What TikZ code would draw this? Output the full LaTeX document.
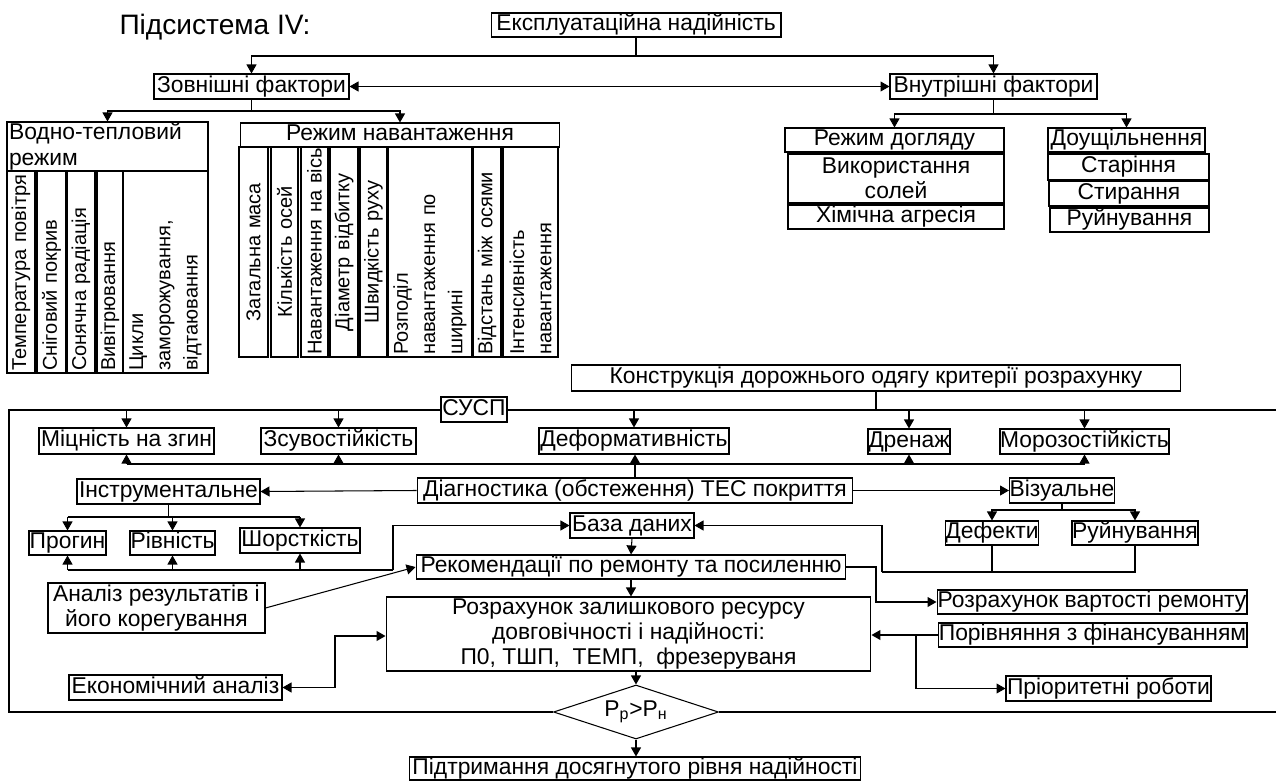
\documentclass[tikz,border=0pt]{standalone}
\usepackage{fontspec}
\setmainfont{Liberation Sans}
\usetikzlibrary{arrows.meta,shapes.geometric}
\tikzset{
  box/.style={draw,fill=white,inner sep=0pt,align=center},
  lbox/.style={box,text height=9.4pt,text depth=2.6pt},
  col/.style={draw,rotate=90,inner sep=0pt,minimum height=#1,font=\fontsize{11.4}{15.5}\selectfont},
  wcol/.style={col=#1,minimum width=4.04cm,text width=3.96cm,align=left},
  rcol/.style={col=#1,minimum width=4.2cm,text width=4.12cm,align=left},
  rcolc/.style={rcol=#1,align=center},
}

\begin{document}
\begin{tikzpicture}[x=0.02cm,y=-0.02cm,line width=0.6pt,
    font=\fontsize{13}{14.5}\selectfont,>={Triangle[length=1.8mm,width=2mm]}]
   \useasboundingbox (0,0) rectangle (1276,781);
% Heading
   \node [font=\fontsize{16}{19}\selectfont] (title) at (215,27) {Підсистема IV:};
   \node [lbox,minimum width=5.8cm,minimum height=0.48cm] (expl) at (636,25) {Експлуатаційна надійність};
   \node [lbox,minimum width=3.9cm,minimum height=0.5cm] (zovn) at (251.5,86.5) {Зовнішні фактори};
   \node [lbox,minimum width=4.14cm,minimum height=0.5cm] (vnutr) at (993.5,86.5) {Внутрішні фактори};
   \coordinate (j1) at (636,56);
   \draw (expl.south) -- (j1);
   \draw [->] (j1) -| (zovn.north);
   \draw [->] (j1) -| (vnutr.north);
   \draw [<->] (zovn.east) -- (vnutr.west);
% External factors
   \node [box,minimum width=4.02cm,minimum height=0.98cm,text width=3.94cm,align=left] (vodno) at (107.5,146.5)
        {Водно-тепловий\\режим};
   \node [lbox,minimum width=6.4cm,minimum height=0.48cm] (rezh) at (400,135) {Режим навантаження};
   \coordinate (j2) at (251.5,111);
   \draw (zovn.south) -- (j2);
   \draw [->] (j2) -| (vodno.north);
   \draw [->] (j2) -| (rezh.north);
   \node [wcol=0.56cm] (w1) at (21,272)    {Температура~повітря};
   \node [wcol=0.58cm] (w2) at (51.5,272)  {Сніговий~покрив};
   \node [wcol=0.56cm] (w3) at (81,272)    {Сонячна~радіація};
   \node [wcol=0.52cm] (w4) at (110,272)   {Вивітрювання};
   \node [wcol=1.7cm]  (w5) at (165.5,272) {Цикли\\заморожування,\\відтаювання};
   \node [rcolc=0.58cm] (r1) at (253.5,252) {Загальна~маса};
   \node [rcolc=0.54cm] (r2) at (284.5,252) {Кількість~осей};
   \node [rcol=0.54cm]  (r3) at (314.5,252) {Навантаження~на~вісь};
   \node [rcolc=0.56cm] (r4) at (344,252)   {Діаметр~відбитку};
   \node [rcolc=0.54cm] (r5) at (373.5,252) {Швидкість~руху};
   \node [rcol=1.68cm]  (r6) at (430,252)   {Розподіл\\навантаження~по\\ширині};
   \node [rcol=0.56cm]  (r7) at (487,252)   {Відстань~між~осями};
   \node [rcol=1.1cm]   (r8) at (530.5,252) {Інтенсивність\\навантаження};
% Internal factors
   \node [lbox,minimum width=4.38cm,minimum height=0.48cm] (rdog) at (894.5,140) {Режим догляду};
   \node [box,minimum width=4.32cm,minimum height=0.98cm] (vsol) at (896,178.5) {Використання\\солей};
   \node [lbox,minimum width=4.32cm,minimum height=0.48cm] (khim) at (896,217) {Хімічна агресія};
   \node [lbox,minimum width=3.14cm,minimum height=0.48cm] (doush) at (1126.5,140) {Доущільнення};
   \node [lbox,minimum width=3.22cm,minimum height=0.52cm] (star) at (1128.5,167) {Старіння};
   \node [lbox,minimum width=3.2cm,minimum height=0.5cm] (styr) at (1129,193.5) {Стирання};
   \node [lbox,minimum width=3.18cm,minimum height=0.48cm] (ruin) at (1129.5,220) {Руйнування};
   \coordinate (j3) at (993.5,114);
   \draw (vnutr.south) -- (j3);
   \draw [->] (j3) -| (rdog.north);
   \draw [->] (j3) -| (doush.north);
% Design criteria (frame)
   \node [lbox,minimum width=12.2cm,minimum height=0.52cm] (konstr) at (876,378)
        {Конструкція дорожнього одягу критерії розрахунку};
   \coordinate (top) at (876,410);
   \draw (konstr.south) -- (top);
   \node [shape=diamond,draw,inner sep=0pt,aspect=3,minimum width=3.3cm,minimum height=1.08cm] (cmp) at (636,712)
        {P\textsubscript{р}>P\textsubscript{н}};
   \draw (1276,410) -- (9,410) -- (9,712) -- (cmp.west);
   \draw (cmp.east) -- (1276,712);
   \node [lbox,minimum width=1.32cm,minimum height=0.5cm] (susp) at (474,409.5) {СУСП};
   \node [lbox,minimum width=3.5cm,minimum height=0.52cm] (mitsn) at (126.5,441) {Міцність на згин};
   \node [lbox,minimum width=3.1cm,minimum height=0.52cm] (zsuv) at (338.5,441) {Зсувостійкість};
   \node [lbox,minimum width=3.8cm,minimum height=0.52cm] (deform) at (634,441) {Деформативність};
   \node [lbox,minimum width=1.64cm,minimum height=0.5cm] (dren) at (909,441.5) {Дренаж};
   \node [lbox,minimum width=3.38cm,minimum height=0.5cm] (moroz) at (1084.5,441.5) {Морозостійкість};
   \foreach \n in {mitsn,zsuv,deform,dren,moroz}
      \draw [->] (\n.north |- top) -- (\n.north);
% Diagnostics
   \node [lbox,minimum width=8.72cm,minimum height=0.5cm] (diag) at (635,490.5)
        {Діагностика (обстеження) ТЕС покриття};
   \node [lbox,minimum width=3.66cm,minimum height=0.5cm] (instr) at (168.5,491.5) {Інструментальне};
   \node [lbox,minimum width=2.08cm,minimum height=0.5cm] (viz) at (1062,490.5) {Візуальне};
   \coordinate (fb) at (0,464);
   \draw [->,thick] (diag.north) -- (diag.north |- deform.south);
   \draw (mitsn.south |- fb) -- (moroz.south |- fb);
   \foreach \n in {mitsn,zsuv,dren,moroz}
      \draw [->] (\n.south |- fb) -- (\n.south);
   \draw [->] (diag.west) -- (instr.east);
   \draw [->] (diag.east) -- (viz.west);
   \node [lbox,minimum width=1.54cm,minimum height=0.48cm] (progin) at (67.5,543) {Прогин};
   \node [lbox,minimum width=1.7cm,minimum height=0.48cm] (rivn) at (172.5,543) {Рівність};
   \node [lbox,minimum width=2.4cm,minimum height=0.5cm] (shorst) at (300,540.5) {Шорсткість};
   \coordinate (j4) at (0,517);
   \draw (instr.south) -- (instr.south |- j4);
   \draw (progin.north |- j4) -- (shorst.north |- j4);
   \foreach \n in {progin,rivn,shorst}
      \draw [->] (\n.north |- j4) -- (\n.north);
   \node [lbox,minimum width=1.84cm,minimum height=0.48cm] (defekt) at (992,533) {Дефекти};
   \node [lbox,minimum width=2.52cm,minimum height=0.48cm] (ruin2) at (1135,533) {Руйнування};
   \coordinate (j5) at (1062,510);
   \draw (viz.south) -- (j5);
   \draw [->] (j5) -| (defekt.north);
   \draw [->] (j5) -| (ruin2.north);
% Data base and repair
   \node [lbox,minimum width=2.48cm,minimum height=0.5cm] (baza) at (632,525.5) {База даних};
   \node [lbox,minimum width=8.6cm,minimum height=0.48cm] (rekom) at (631,567)
        {Рекомендації по ремонту та посиленню};
   \coordinate (j6) at (882,572);
   \draw (defekt.south) -- (defekt.south |- j6);
   \draw (ruin2.south) |- (j6);
   \draw [->] (j6) |- (baza.east);
   \coordinate (j7) at (393,570);
   \draw [->] (j7) |- (baza.west);
   \draw (progin.south |- j7) -- (j7);
   \foreach \n in {progin,rivn,shorst}
      \draw [->] (\n.south |- j7) -- (\n.south);
   \draw [->] (baza.south) -- (rekom.north);
   \node [box,minimum width=4.34cm,minimum height=1cm] (analiz) at (156.5,608)
        {Аналіз результатів і\\його корегування};
   \draw [->] (analiz.east) -- (rekom.west);
   \node [box,minimum width=9.7cm,minimum height=1.48cm] (rozr) at (628.5,634)
        {Розрахунок залишкового ресурсу\\довговічності і надійності:\\П0, ТШП,\ \ ТЕМП,\ \ фрезеруваня};
   \draw [->] (rekom.south) -- (rekom.south |- rozr.north);
   \node [lbox,minimum width=6.2cm,minimum height=0.48cm] (vart) at (1092,602) {Розрахунок вартості ремонту};
   \node [lbox,minimum width=6.18cm,minimum height=0.48cm] (porivn) at (1092.5,635) {Порівняння з фінансуванням};
   \node [lbox,minimum width=4.1cm,minimum height=0.5cm] (prior) at (1108.5,688.5) {Пріоритетні роботи};
   \node [lbox,minimum width=4.26cm,minimum height=0.5cm] (ekon) at (175.5,687.5) {Економічний аналіз};
   \coordinate (j8) at (876,602);
   \draw [->] (rekom.east) -| (j8) -- (vart.west);
   \draw [->] (porivn.west) -- (rozr.east |- porivn.west);
   \coordinate (j9) at (916,635);
   \draw [->] (j9) |- (prior.west);
   \coordinate (j10) at (335,636);
   \draw [<->] (ekon.east) -| (j10) -- (rozr.west |- j10);
% Result
   \node [lbox,minimum width=9.04cm,minimum height=0.46cm] (pidtr) at (635,768.5)
        {Підтримання досягнутого рівня надійності};
   \draw [->] (cmp.north |- rozr.south) -- (cmp.north);
   \draw [->] (cmp.south) -- (cmp.south |- pidtr.north);
\end{tikzpicture}
\end{document}
